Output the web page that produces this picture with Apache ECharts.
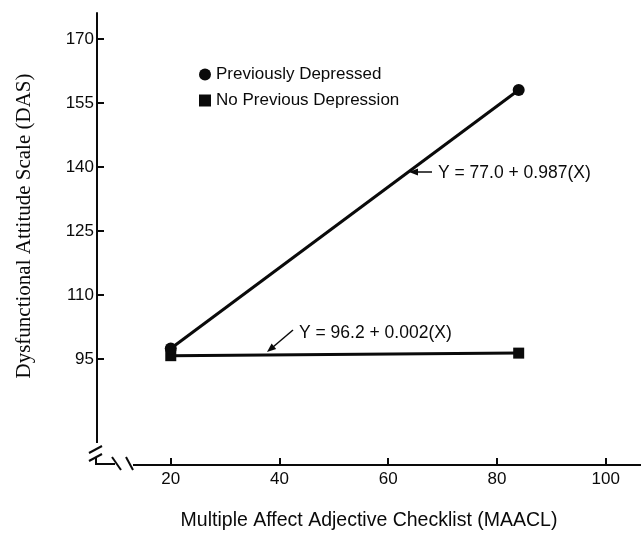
<!DOCTYPE html>
<html>
<head>
<meta charset="utf-8">
<script src="https://cdn.jsdelivr.net/npm/echarts@6/dist/echarts.min.js"></script>
<style>
html,body{margin:0;padding:0;background:#fff;}
#c{width:641px;height:534px;}
</style>
</head>
<body>
<div id="c"></div>
<script>
// Data
const xValues = [20, 84];
const previouslyDepressed = [97.5, 158.0];
const noPreviousDepression = [95.8, 96.4];
const seriesNames = ['Previously Depressed', 'No Previous Depression'];
const xTicks = [20, 40, 60, 80, 100];
const yTicks = [95, 110, 125, 140, 155, 170];
const equations = ['Y = 77.0 + 0.987(X)', 'Y = 96.2 + 0.002(X)'];

const SANS = '"Liberation Sans", Arial, Helvetica, sans-serif';
const SERIF = '"Liberation Serif", "Times New Roman", serif';
const INK = '#0a0a0a';

const chart = echarts.init(document.getElementById('c'), null, {renderer: 'canvas'});

function pairs(xs, ys) { return xs.map((x, i) => [x, ys[i]]); }

const option = {
  animation: false,
  backgroundColor: '#fff',
  grid: {left: 97, right: 0, top: 13, bottom: 69, outerBoundsMode: 'none', containLabel: false},
  legend: {
    orient: 'vertical', left: 199, top: 66, padding: 0,
    itemWidth: 12, itemHeight: 12, itemGap: 9,
    selectedMode: false,
    textStyle: {fontSize: 17, fontFamily: SANS, color: INK},
    data: [{name: seriesNames[0], icon: 'circle'}, {name: seriesNames[1], icon: 'rect'}]
  },
  xAxis: {
    type: 'value', min: 6.43, max: 106.5,
    name: 'Multiple Affect Adjective Checklist (MAACL)',
    nameLocation: 'middle', nameGap: 46,
    nameTextStyle: {fontSize: 19.5, fontFamily: SANS, color: INK},
    axisLine: {show: true, lineStyle: {color: INK, width: 2}},
    axisTick: {show: true, inside: true, length: 7, lineStyle: {color: INK, width: 2}, customValues: xTicks},
    axisLabel: {fontSize: 17, fontFamily: SANS, color: INK, margin: 6, customValues: xTicks},
    splitLine: {show: false}
  },
  yAxis: {
    type: 'value', min: 70.2, max: 176.05,
    name: 'Dysfunctional Attitude Scale (DAS)',
    nameLocation: 'middle', nameGap: 62,
    nameTextStyle: {fontSize: 21, fontFamily: SERIF, color: INK, padding: [0, 0, 0, 26]},
    axisLine: {show: true, lineStyle: {color: INK, width: 2}},
    axisTick: {show: true, inside: true, length: 7, lineStyle: {color: INK, width: 2}, customValues: yTicks},
    axisLabel: {fontSize: 17, fontFamily: SANS, color: INK, margin: 3, customValues: yTicks},
    splitLine: {show: false}
  },
  series: [
    {
      name: seriesNames[1], type: 'line', data: pairs(xValues, noPreviousDepression),
      symbol: 'rect', symbolSize: 11, z: 2,
      lineStyle: {color: INK, width: 3}, itemStyle: {color: INK}
    },
    {
      name: seriesNames[0], type: 'line', data: pairs(xValues, previouslyDepressed),
      symbol: 'circle', symbolSize: 12, z: 3,
      lineStyle: {color: INK, width: 3}, itemStyle: {color: INK}
    }
  ],
  graphic: [
    // axis break decorations
    {type: 'rect', shape: {x: 86, y: 443, width: 18, height: 30}, style: {fill: '#fff'}, z: 50},
    {type: 'rect', shape: {x: 86, y: 458, width: 47, height: 14}, style: {fill: '#fff'}, z: 50},
    {type: 'line', shape: {x1: 89, y1: 453, x2: 102, y2: 446}, style: {stroke: INK, lineWidth: 2}, z: 51},
    {type: 'line', shape: {x1: 89, y1: 461, x2: 102, y2: 454}, style: {stroke: INK, lineWidth: 2}, z: 51},
    {type: 'polyline', shape: {points: [[96, 457], [96, 464], [115, 464]]}, style: {stroke: INK, lineWidth: 2, fill: null}, z: 51},
    {type: 'line', shape: {x1: 112, y1: 457, x2: 121, y2: 470}, style: {stroke: INK, lineWidth: 2}, z: 51},
    {type: 'line', shape: {x1: 126, y1: 457, x2: 133, y2: 470}, style: {stroke: INK, lineWidth: 2}, z: 51},
    // equation labels with arrows
    {type: 'text', x: 438, y: 173, style: {text: equations[0], fontSize: 17.5, fontFamily: SANS, fill: INK, verticalAlign: 'middle'}, z: 51},
    {type: 'line', shape: {x1: 432, y1: 172, x2: 416, y2: 172}, style: {stroke: INK, lineWidth: 1.5}, z: 51},
    {type: 'polygon', shape: {points: [[409, 172], [418, 168.5], [418, 175.5]]}, style: {fill: INK}, z: 51},
    {type: 'text', x: 299, y: 333, style: {text: equations[1], fontSize: 17.5, fontFamily: SANS, fill: INK, verticalAlign: 'middle'}, z: 51},
    {type: 'line', shape: {x1: 293, y1: 330, x2: 273, y2: 347}, style: {stroke: INK, lineWidth: 1.5}, z: 51},
    {type: 'polygon', shape: {points: [[267, 352], [276.2, 348.9], [271.6, 343.5]]}, style: {fill: INK}, z: 51}
  ]
};
chart.setOption(option);
</script>
</body>
</html>
